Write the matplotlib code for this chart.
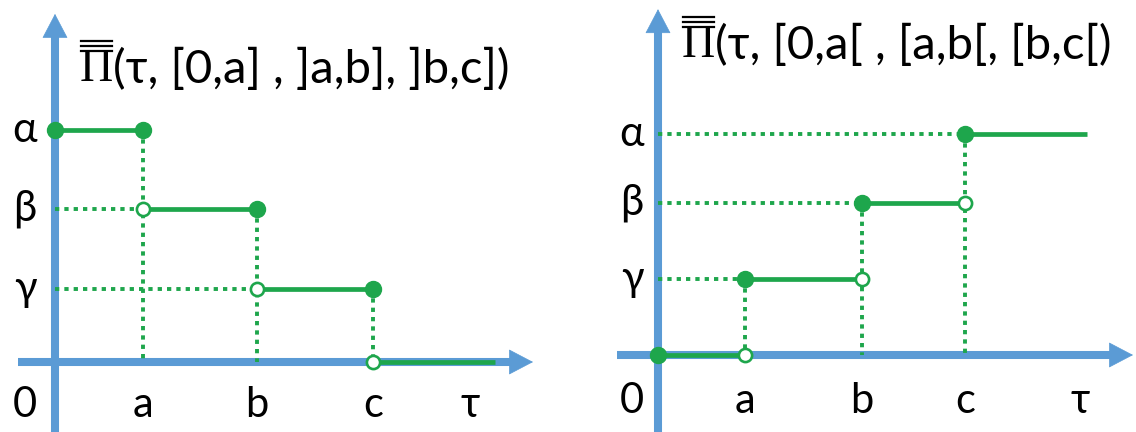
import matplotlib.pyplot as plt
from matplotlib.lines import Line2D

plt.rcParams['font.family'] = ['Lato', 'Noto Sans', 'DejaVu Sans']

BLUE = '#5b9bd5'
GREEN = '#1ea64c'

# breakpoints 0, a, b, c and where the last step is cut off
left_breaks = [0.0, 0.88, 2.02, 3.18]
left_end = 4.40
# level on each interval: [0,a], ]a,b], ]b,c], after c
left_levels = [3.05, 2.01, 0.96, 0.0]

right_breaks = [0.0, 0.87, 2.04, 3.07]
right_end = 4.29
# level on each interval: [0,a[, [a,b[, [b,c[, from c on
right_levels = [0.0, 1.0, 2.0, 2.91]

x_labels = ['0', 'a', 'b', 'c', 'τ']
left_tau = 4.15
right_tau = 4.22
y_labels = ['α', 'β', 'γ']

left_title = '(τ, [0,a] , ]a,b], ]b,c])'
right_title = '(τ, [0,a[ , [a,b[, [b,c[)'

fig = plt.figure(figsize=(11.36, 4.32), dpi=100)


def make_axes(rect, x0, y0, w, h, sx=100.0, sy=76.0):
    # axes over a pixel box; (x0, y0) is the origin, counted from the top-left
    ax = fig.add_axes(rect)
    ax.set_xlim(-x0 / sx, (w - x0) / sx)
    ax.set_ylim((y0 - h) / sy, y0 / sy)
    ax.axis('off')
    return ax


def draw_axes_arrows(ax, x_start, x_tip, y_tip):
    y_bot = ax.get_ylim()[0]
    head_x = 0.23
    head_y = 23 / 76
    ax.plot([0, 0], [y_bot, y_tip - head_y], color=BLUE, lw=5.8,
            solid_capstyle='butt', zorder=1)
    ax.plot([x_start, x_tip - head_x], [0, 0], color=BLUE, lw=5.8,
            solid_capstyle='butt', zorder=1)
    style = '-|>,head_length=0.82,head_width=0.43'
    ax.annotate('', xy=(0, y_tip), xytext=(0, y_tip - head_y),
                arrowprops=dict(arrowstyle=style, color=BLUE, lw=0.5,
                                mutation_scale=20, shrinkA=0, shrinkB=0),
                zorder=1)
    ax.annotate('', xy=(x_tip, 0), xytext=(x_tip - head_x, 0),
                arrowprops=dict(arrowstyle=style, color=BLUE, lw=0.5,
                                mutation_scale=20, shrinkA=0, shrinkB=0),
                zorder=1)


def draw_steps(ax, breaks, levels, end, closed_left):
    starts = breaks
    stops = breaks[1:] + [end]
    dot = dict(color=GREEN, lw=2.8, linestyle=(0, (1.1, 1.3)), zorder=2)
    # dotted guides: to the y axis from each step start, down to the x axis
    for x, y in zip(starts[1:], levels[1:]):
        if y > 0:
            ax.plot([0, x], [y, y], **dot)
    for i, x in enumerate(breaks[1:], start=1):
        top = max(levels[i - 1], levels[i])
        ax.plot([x, x], [top, 0], **dot)
    # solid steps
    for x1, x2, y in zip(starts, stops, levels):
        ax.plot([x1, x2], [y, y], color=GREEN, lw=3.4,
                solid_capstyle='butt', zorder=3)
    # endpoints
    full = dict(marker='o', ms=11.5, color=GREEN, ls='none', zorder=4)
    hollow = dict(marker='o', ms=9.5, mfc='white', mec=GREEN, mew=1.9,
                  ls='none', zorder=4)
    for i, (x1, x2, y) in enumerate(zip(starts, stops, levels)):
        last = i == len(levels) - 1
        if closed_left:
            ax.plot([x1], [y], **full)
            if not last:
                ax.plot([x2], [y], **hollow)
        else:
            ax.plot([x1], [y], **(full if i == 0 else hollow))
            if not last:
                ax.plot([x2], [y], **full)


def draw_labels(ax, breaks, tau, levels_sorted, lab_x, lab_y):
    xs = [lab_x] + breaks[1:] + [tau]
    for x, s in zip(xs, x_labels):
        ax.text(x, lab_y, s, fontsize=30, ha='center', va='center')
    for y, s in zip(levels_sorted, y_labels):
        ax.text(lab_x, y, s, fontsize=30, ha='center', va='center')


def draw_title(ax, x, y, rest):
    pi = ax.text(x, y, 'Π', fontsize=33, ha='left', va='center',
                 family=['Liberation Serif', 'DejaVu Serif'])
    ax.annotate(rest, xy=(1, 0), xycoords=pi, va='bottom', ha='left',
                fontsize=34)
    fig.canvas.draw()
    bb = pi.get_window_extent()
    inv = fig.transFigure.inverted()
    # triple bar over the Π
    for k in range(3):
        yy = bb.y1 - 3 + 5 * k
        (fx0, fy), (fx1, _) = inv.transform([(bb.x0 + 1, yy), (bb.x1 - 1, yy)])
        fig.add_artist(Line2D([fx0, fx1], [fy, fy], color='black', lw=1.6))


axl = make_axes([0, 0, 560 / 1136, 1], 55, 362, 560, 432)
draw_axes_arrows(axl, -0.37, 4.78, 4.58)
draw_steps(axl, left_breaks, left_levels, left_end, closed_left=False)
draw_labels(axl, left_breaks, left_tau, sorted(left_levels[:3], reverse=True),
            -0.3, -0.57)
draw_title(axl, 0.25, 3.85, left_title)

axr = make_axes([560 / 1136, 0, 576 / 1136, 1], 98, 355, 576, 432)
draw_axes_arrows(axr, -0.41, 4.75, 4.55)
draw_steps(axr, right_breaks, right_levels, right_end, closed_left=True)
draw_labels(axr, right_breaks, right_tau, sorted(right_levels[1:], reverse=True),
            -0.26, -0.6)
draw_title(axr, 0.24, 4.07, right_title)

fig.savefig('out.png', dpi=100)
